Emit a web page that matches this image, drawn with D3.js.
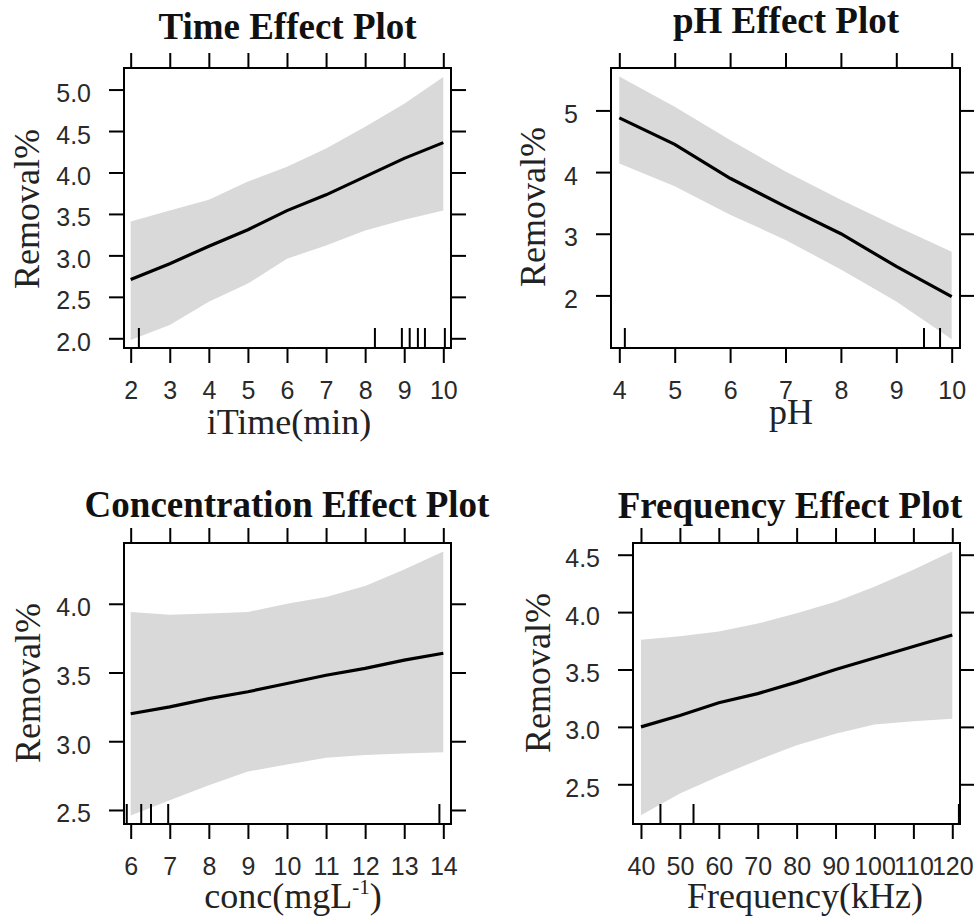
<!DOCTYPE html>
<html>
<head>
<meta charset="utf-8">
<script src="https://cdn.jsdelivr.net/npm/d3@7"></script>
<style>
  body { margin: 0; background: #fff; }
  .tickLabel { font-family: "Liberation Sans", Arial, sans-serif; font-size: 25px; fill: #2a2a2a; }
  .title { font-family: "Liberation Serif", "Times New Roman", serif; font-size: 37px; font-weight: bold; fill: #111; }
  .axisTitle { font-family: "Liberation Serif", "Times New Roman", serif; font-size: 36px; fill: #222; }
</style>
</head>
<body>
<div id="chart"></div>
<script>
// effect values (fit and confidence band)
const timeX = [2, 3, 4, 5, 6, 7, 8, 9, 10];
const timeFit = [2.71, 2.90, 3.11, 3.31, 3.54, 3.73, 3.95, 4.17, 4.36];
const timeLower = [1.98, 2.16, 2.44, 2.66, 2.96, 3.12, 3.30, 3.43, 3.54];
const timeUpper = [3.41, 3.54, 3.67, 3.89, 4.07, 4.29, 4.55, 4.83, 5.15];
const timeRug = [2.21, 8.25, 8.94, 9.14, 9.35, 9.53, 10.04];
const timeXTicks = [2, 3, 4, 5, 6, 7, 8, 9, 10];
const timeYTicks = [2.0, 2.5, 3.0, 3.5, 4.0, 4.5, 5.0];

const phX = [4, 5, 6, 7, 8, 9, 10];
const phFit = [4.88, 4.45, 3.90, 3.44, 3.00, 2.47, 1.98];
const phLower = [4.14, 3.77, 3.31, 2.90, 2.42, 1.90, 1.29];
const phUpper = [5.55, 5.06, 4.52, 4.01, 3.55, 3.12, 2.71];
const phRug = [4.1, 9.5, 9.79];
const phXTicks = [4, 5, 6, 7, 8, 9, 10];
const phYTicks = [2, 3, 4, 5];

const concX = [6, 7, 8, 9, 10, 11, 12, 13, 14];
const concFit = [3.20, 3.25, 3.31, 3.36, 3.42, 3.48, 3.53, 3.59, 3.64];
const concLower = [2.46, 2.57, 2.68, 2.78, 2.83, 2.88, 2.90, 2.91, 2.92];
const concUpper = [3.94, 3.92, 3.93, 3.94, 4.00, 4.05, 4.13, 4.25, 4.38];
const concRug = [5.9, 6.27, 6.52, 6.96, 13.9];
const concXTicks = [6, 7, 8, 9, 10, 11, 12, 13, 14];
const concYTicks = [2.5, 3.0, 3.5, 4.0];

const freqX = [40, 50, 60, 70, 80, 90, 100, 110, 120];
const freqFit = [3.00, 3.10, 3.21, 3.29, 3.39, 3.50, 3.60, 3.70, 3.80];
const freqLower = [2.23, 2.42, 2.57, 2.71, 2.84, 2.94, 3.02, 3.05, 3.07];
const freqUpper = [3.76, 3.79, 3.83, 3.90, 3.99, 4.09, 4.22, 4.37, 4.53];
const freqRug = [45, 53.5, 121.7];
const freqXTicks = [40, 50, 60, 70, 80, 90, 100, 110, 120];
const freqYTicks = [2.5, 3.0, 3.5, 4.0, 4.5];

const zip = (xs, fit, lo, hi) => xs.map((x, i) => ({x: x, fit: fit[i], lower: lo[i], upper: hi[i]}));

// layout of the four lattice panels
const panels = [
    {title: 'Time Effect Plot', xTitle: 'iTime(min)', data: zip(timeX, timeFit, timeLower, timeUpper),
     rug: timeRug, xTicks: timeXTicks, yTicks: timeYTicks, fmt: '.1f',
     box: {left: 124, top: 68, right: 451, bottom: 348}, xDom: [1.829, 10.197], yDom: [1.883, 5.26],
     titlePos: [287.5, 39], yTitlePos: [39, 209], xTitlePos: [289, 434]},
    {title: 'pH Effect Plot', xTitle: 'pH', data: zip(phX, phFit, phLower, phUpper),
     rug: phRug, xTicks: phXTicks, yTicks: phYTicks, fmt: 'd',
     box: {left: 611, top: 68, right: 960, bottom: 348}, xDom: [3.85, 10.15], yDom: [1.147, 5.688],
     titlePos: [786, 33], yTitlePos: [545, 207], xTitlePos: [791, 424]},
    {title: 'Concentration Effect Plot', xTitle: ['conc(mgL', '-1', ')'], data: zip(concX, concFit, concLower, concUpper),
     rug: concRug, xTicks: concXTicks, yTicks: concYTicks, fmt: '.1f',
     box: {left: 124, top: 543, right: 451, bottom: 824}, xDom: [5.829, 14.197], yDom: [2.398, 4.442],
     titlePos: [287, 517], yTitlePos: [40, 683], xTitlePos: [293, 908]},
    {title: 'Frequency Effect Plot', xTitle: 'Frequency(kHz)', data: zip(freqX, freqFit, freqLower, freqUpper),
     rug: freqRug, xTicks: freqXTicks, yTicks: freqYTicks, fmt: '.1f',
     box: {left: 633, top: 543, right: 960, bottom: 824}, xDom: [37.95, 121.98], yDom: [2.154, 4.602],
     titlePos: [790, 518], yTitlePos: [550, 673], xTitlePos: [805, 908]}
];

const svg = d3.select('#chart').append('svg')
    .attr('width', 974)
    .attr('height', 919);

svg.append('rect').attr('width', 974).attr('height', 919).attr('fill', '#fff');

const tickLen = 15;

panels.forEach(p => {
    let b = p.box;
    let x = d3.scaleLinear().domain(p.xDom).range([b.left, b.right]);
    let y = d3.scaleLinear().domain(p.yDom).range([b.bottom, b.top]);
    let g = svg.append('g');

    // confidence band
    let area = d3.area()
        .x(d => x(d.x))
        .y0(d => y(d.lower))
        .y1(d => y(d.upper));
    g.append('path')
        .datum(p.data)
        .attr('d', area)
        .attr('fill', '#d9d9d9');

    // fitted effect
    let line = d3.line()
        .x(d => x(d.x))
        .y(d => y(d.fit));
    g.append('path')
        .datum(p.data)
        .attr('d', line)
        .attr('fill', 'none')
        .attr('stroke', '#000')
        .attr('stroke-width', 3.2);

    // rug along the bottom
    g.selectAll('.rug').data(p.rug).enter()
        .append('line')
        .attr('class', 'rug')
        .attr('x1', d => x(d)).attr('x2', d => x(d))
        .attr('y1', b.bottom).attr('y2', b.bottom - 20)
        .attr('stroke', '#000')
        .attr('stroke-width', 2);

    // axes: labels on left/bottom, ticks on all four sides
    let bottomAxis = d3.axisBottom(x).tickValues(p.xTicks).tickSize(tickLen).tickFormat(d3.format('d'));
    let topAxis = d3.axisTop(x).tickValues(p.xTicks).tickSize(tickLen).tickFormat('');
    let leftAxis = d3.axisLeft(y).tickValues(p.yTicks).tickSize(tickLen).tickPadding(18).tickFormat(d3.format(p.fmt));
    let rightAxis = d3.axisRight(y).tickValues(p.yTicks).tickSize(tickLen).tickFormat('');

    let axes = [
        [bottomAxis, 'translate(0,' + b.bottom + ')'],
        [topAxis, 'translate(0,' + b.top + ')'],
        [leftAxis, 'translate(' + b.left + ',0)'],
        [rightAxis, 'translate(' + b.right + ',0)']
    ];
    let axisGroups = axes.map(a => {
        let ag = g.append('g').attr('transform', a[1]).call(a[0]);
        ag.select('.domain').remove();
        ag.selectAll('.tick line').attr('stroke', '#000').attr('stroke-width', 2);
        ag.selectAll('.tick text').attr('class', 'tickLabel').attr('font-size', null).attr('font-family', null).attr('fill', null);
        return ag;
    });
    // label baselines as in the picture
    axisGroups[0].selectAll('.tickLabel').attr('y', 51).attr('dy', null);
    axisGroups[2].selectAll('.tickLabel').attr('dy', 12);

    // panel frame
    g.append('rect')
        .attr('x', b.left).attr('y', b.top)
        .attr('width', b.right - b.left).attr('height', b.bottom - b.top)
        .attr('fill', 'none')
        .attr('stroke', '#000')
        .attr('stroke-width', 2);

    g.append('text')
        .attr('class', 'title')
        .attr('text-anchor', 'middle')
        .attr('x', p.titlePos[0]).attr('y', p.titlePos[1])
        .text(p.title);

    g.append('text')
        .attr('class', 'axisTitle')
        .attr('text-anchor', 'middle')
        .attr('transform', 'translate(' + p.yTitlePos[0] + ',' + p.yTitlePos[1] + ') rotate(-90)')
        .text('Removal%');

    let xt = g.append('text')
        .attr('class', 'axisTitle')
        .attr('text-anchor', 'middle')
        .attr('x', p.xTitlePos[0]).attr('y', p.xTitlePos[1]);
    if (Array.isArray(p.xTitle)) {
        xt.append('tspan').text(p.xTitle[0]);
        xt.append('tspan').attr('dy', -14).attr('font-size', 21).text(p.xTitle[1]);
        xt.append('tspan').attr('dy', 14).text(p.xTitle[2]);
    } else {
        xt.text(p.xTitle);
    }
});
</script>
</body>
</html>
